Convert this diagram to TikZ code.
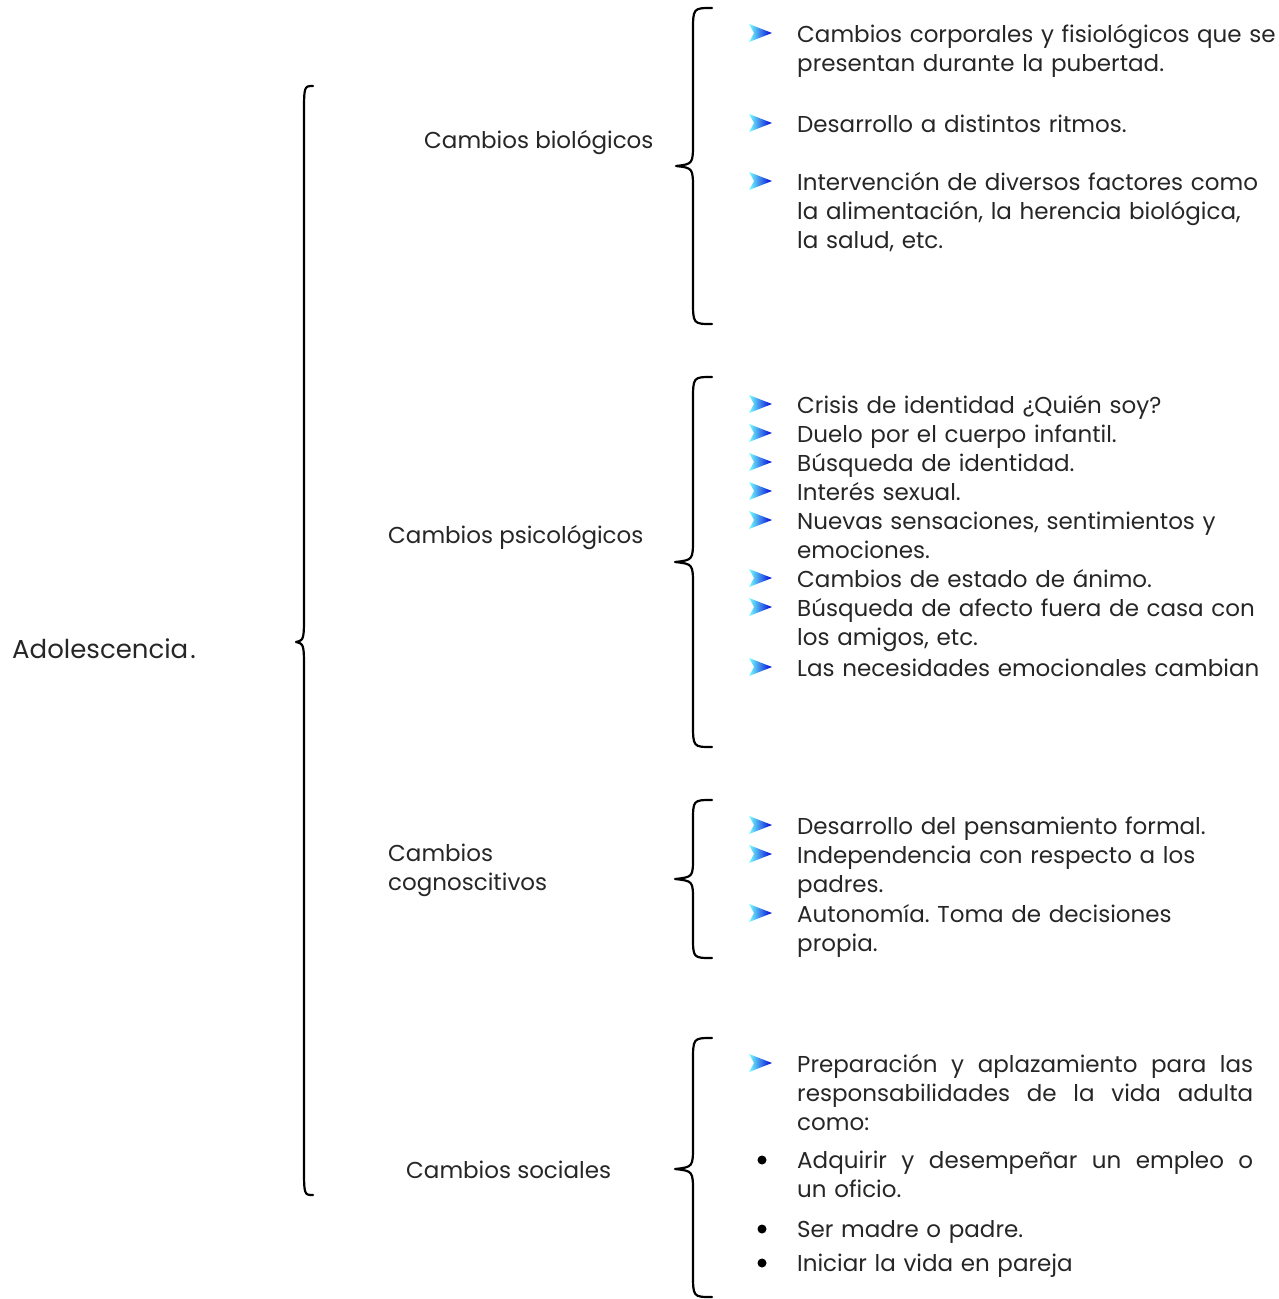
\documentclass[tikz,border=0pt]{standalone}
\usepackage{fontspec}
\setmainfont{Poppins}
\usetikzlibrary{calc}

\tikzset{
  texto/.style={anchor=base west, inner sep=0pt, text=black!85,
    font=\fontsize{23}{29}\selectfont, align=left},
  item/.style={texto, text width=490pt},
  llave/.style={line width=2.2pt, line cap=round, line join=round},
  flecha/.pic={
    \shade[left color=cyan!55, right color=blue!85!black]
      (0,-9) -- (23,0) -- (0,9) -- (5,0) -- cycle;
  }
}
% justified line of fixed width
\newcommand{\just}[1]{\leavevmode\hbox to 456pt{#1}}

\begin{document}
\begin{tikzpicture}[x=1pt, y=-1pt]
      \useasboundingbox (0,0) rectangle (1278,1299);
      %
      % braces: end x / line x / tip x / top / tip / bottom / bend
      \foreach \xe/\xl/\xt/\ya/\yb/\yc/\r in {
          313/304/296/86/642/1195/30,
          712/693/676/8/166/324/24,
          712/693/675/377/562/747/24,
          712/693/675/800/879/958/22,
          712/693/675/1038/1169/1297/24}
        \draw[llave] (\xe,\ya) .. controls (\xl,\ya) .. (\xl,\ya+\r)
          -- (\xl,\yb-\r) .. controls (\xl,\yb-2) .. (\xt,\yb)
          .. controls (\xl,\yb+2) .. (\xl,\yb+\r)
          -- (\xl,\yc-\r) .. controls (\xl,\yc) .. (\xe,\yc);
      %
      \node[texto, font=\fontsize{26}{30}\selectfont] (adol) at (12,658) {Adolescencia\kern2pt.};
      \node[texto] (bio) at (424,148) {Cambios biológicos};
      \node[texto] (psi) at (388,543) {Cambios psicológicos};
      \node[texto, text width=200pt] (cog) at (388,861) {Cambios\\cognoscitivos};
      \node[texto] (soc) at (406,1178) {Cambios sociales};
      %
      % biologicos
      \node[item] (b1) at (797,42) {Cambios corporales y fisiológicos que se\\presentan durante la pubertad.};
      \node[item] (b2) at (797,132) {Desarrollo a distintos ritmos.};
      \node[item] (b3) at (797,190) {Intervención de diversos factores como\\la alimentación, la herencia biológica,\\la salud, etc.};
      %
      % psicologicos
      \node[item] (p1) at (797,413) {Crisis de identidad ¿Quién soy?};
      \node[item] (p2) at (797,442) {Duelo por el cuerpo infantil.};
      \node[item] (p3) at (797,471) {Búsqueda de identidad.};
      \node[item] (p4) at (797,500) {Interés sexual.};
      \node[item] (p5) at (797,529) {Nuevas sensaciones, sentimientos y\\emociones.};
      \node[item] (p6) at (797,587) {Cambios de estado de ánimo.};
      \node[item] (p7) at (797,616) {Búsqueda de afecto fuera de casa con\\los amigos, etc.};
      \node[item] (p8) at (797,676) {Las necesidades emocionales cambian};
      %
      % cognoscitivos
      \node[item] (c1) at (797,834) {Desarrollo del pensamiento formal.};
      \node[item] (c2) at (797,863) {Independencia con respecto a los\\padres.};
      \node[item] (c3) at (797,922) {Autonomía.\ Toma de decisiones\\propia.};
      %
      % sociales
      \node[item] (s1) at (797,1072) {\just{Preparación\hfill y\hfill aplazamiento\hfill para\hfill las}\\
        \just{responsabilidades\hfill de\hfill la\hfill vida\hfill adulta}\\como:};
      \node[item] (s2) at (797,1168) {\just{Adquirir\hfill y\hfill desempeñar\hfill un\hfill empleo\hfill o}\\un oficio.};
      \node[item] (s3) at (797,1237) {Ser madre o padre.};
      \node[item] (s4) at (797,1271) {Iniciar la vida en pareja};
      %
      \foreach \n in {b1,b2,b3,p1,p2,p3,p4,p5,p6,p7,p8,c1,c2,c3,s1}
        \pic at ($(\n.base west)+(-48,-9)$) {flecha};
      \foreach \n in {s2,s3,s4}
        \fill[black] ($(\n.base west)+(-35,-8)$) circle (4.5);
      %
    \end{tikzpicture}
\end{document}
